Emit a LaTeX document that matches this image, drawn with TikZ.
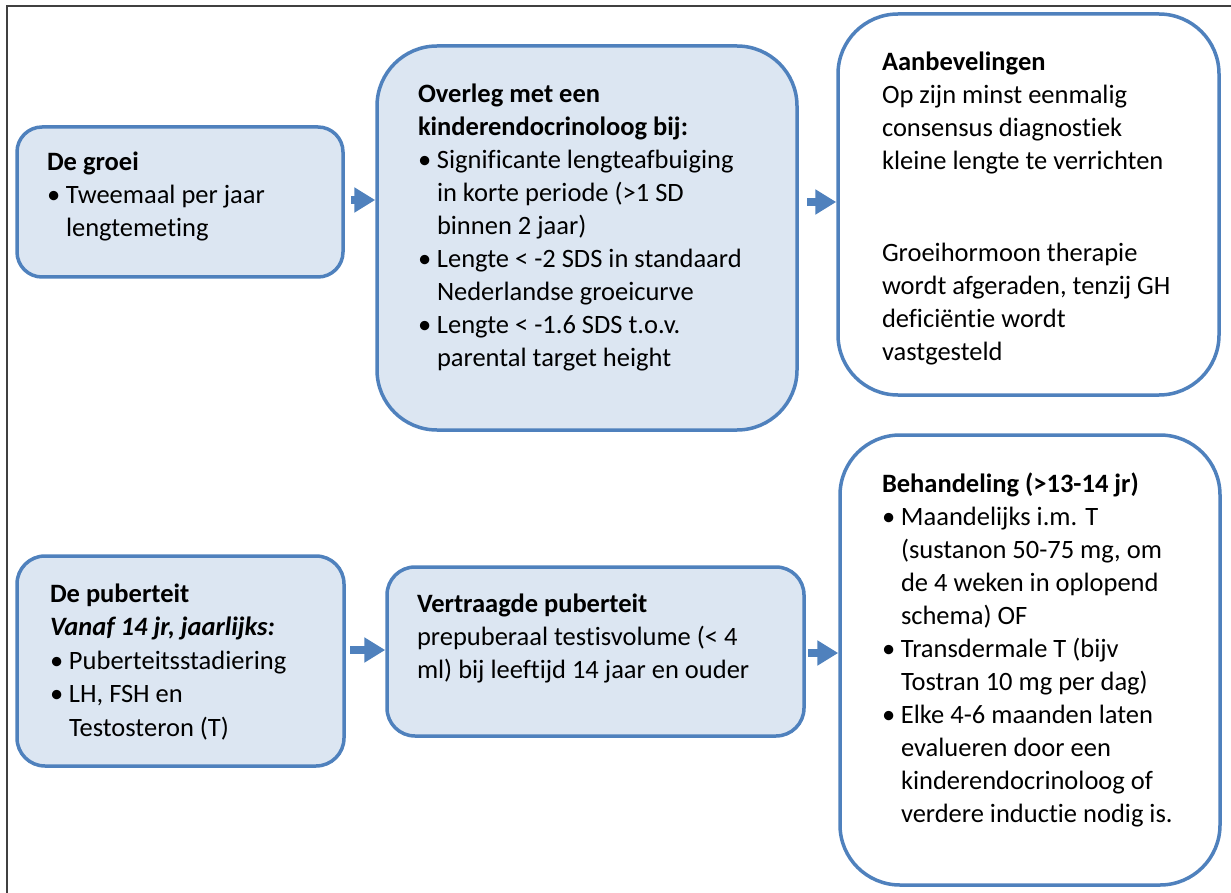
\documentclass[tikz,border=0pt]{standalone}
\usepackage{fontspec}
\setmainfont[Ligatures=NoCommon]{Carlito}
\usetikzlibrary{arrows.meta}
\definecolor{boxfill}{HTML}{DCE6F2}
\definecolor{boxline}{HTML}{4F81BD}
\definecolor{frameline}{HTML}{404040}
\newcommand\mybul{\makebox[19pt][l]{\textbullet}}
\newcommand\myind{\hspace*{19pt}}
\tikzset{
  bluebox/.style={draw=boxline, fill=boxfill, line width=3.5pt, inner sep=0pt},
  whitebox/.style={draw=boxline, fill=white, line width=3.5pt, inner sep=0pt},
  txt/.style={anchor=base west, inner sep=0pt, outer sep=0pt,
    font=\fontsize{26.5}{33}\selectfont},
  blockarrow/.style={draw=boxline, line width=8.5pt,
    -{Triangle[length=21pt,width=24pt]}}
}
\begin{document}
\begin{tikzpicture}[x=1pt,y=-1pt]
\useasboundingbox (0,0) rectangle (1231,893);
% frame
\draw[frameline, line width=1.5pt] (7,893) -- (7,6) -- (1231,6);
% boxes
\node[bluebox, minimum width=326pt, minimum height=150pt, rounded corners=25pt] (b1) at (180,202) {};
\node[bluebox, minimum width=420pt, minimum height=384pt, rounded corners=60pt] (b2) at (587,238) {};
\node[whitebox, minimum width=381pt, minimum height=381pt, rounded corners=60pt] (b3) at (1028.5,204.5) {};
\node[bluebox, minimum width=327pt, minimum height=210pt, rounded corners=28pt] (b4) at (180.5,661) {};
\node[bluebox, minimum width=417pt, minimum height=169pt, rounded corners=28pt] (b5) at (595.5,651.5) {};
\node[whitebox, minimum width=380pt, minimum height=450pt, rounded corners=60pt] (b6) at (1030,660) {};
% arrows
\coordinate (a1) at (351,200);
\coordinate (a2) at (807,202);
\coordinate (a3) at (350,650);
\coordinate (a4) at (808,653);
\draw[blockarrow] (a1) -- (a1 -| b2.west);
\draw[blockarrow] (a2) -- (a2 -| b3.west);
\draw[blockarrow] (a3) -- (a3 -| b5.west);
\draw[blockarrow] (a4) -- (a4 -| b6.west);
% texts
\node[txt] (t1) at (47,171) {\parbox[t]{320pt}{\textbf{De groei}\\
\mybul Tweemaal per jaar\\
\myind lengtemeting}};
\node[txt] (t2) at (418,103) {\parbox[t]{400pt}{\textbf{Overleg met een}\\
\textbf{kinderendocrinoloog bij:}\\
\mybul Significante lengteafbuiging\\
\myind in korte periode (>1 SD\\
\myind binnen 2 jaar)\\
\mybul Lengte < -2 SDS in standaard\\
\myind Nederlandse groeicurve\\
\mybul Lengte < -1.6 SDS t.o.v.\\
\myind parental target height}};
\node[txt] (t3) at (882,71) {\parbox[t]{360pt}{\textbf{Aanbevelingen}\\
Op zijn minst eenmalig\\
consensus diagnostiek\\
kleine lengte te verrichten\\[59pt]
Groeihormoon therapie\\
wordt afgeraden, tenzij GH\\
deficiëntie wordt\\
vastgesteld}};
\node[txt] (t4) at (50,602) {\parbox[t]{320pt}{\fontsize{26.5}{33.5}\selectfont\textbf{De puberteit}\\
\textbf{\textit{Vanaf 14 jr, jaarlijks:}}\\
\mybul Puberteitsstadiering\\
\mybul LH, FSH en\\
\myind Testosteron (T)}};
\node[txt] (t5) at (417,612) {\parbox[t]{400pt}{\textbf{Vertraagde puberteit}\\
prepuberaal testisvolume (< 4\\
ml) bij leeftijd 14 jaar en ouder}};
\node[txt] (t6) at (882,492) {\parbox[t]{360pt}{\textbf{Behandeling (>13-14 jr)}\\
\mybul Maandelijks i.m. T\\
\myind (sustanon 50-75 mg, om\\
\myind de 4 weken in oplopend\\
\myind schema) OF\\
\mybul Transdermale T (bijv\\
\myind Tostran 10 mg per dag)\\
\mybul Elke 4-6 maanden laten\\
\myind evalueren door een\\
\myind kinderendocrinoloog of\\
\myind verdere inductie nodig is.}};
\end{tikzpicture}
\end{document}
